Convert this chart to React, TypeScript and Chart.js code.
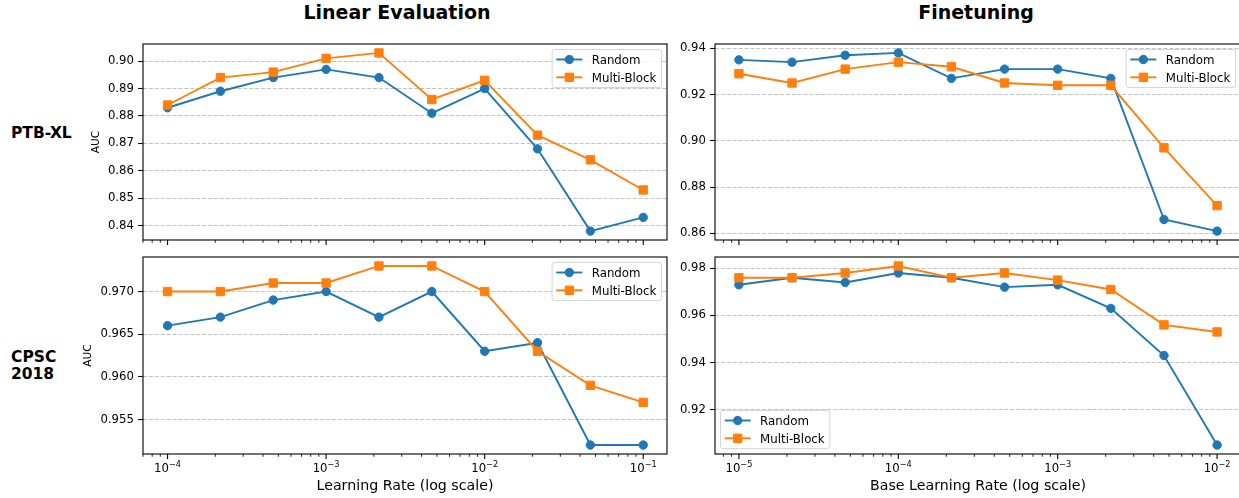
import React, { useEffect, useRef } from "react";
import { Chart, registerables } from "chart.js";

Chart.register(...registerables);

const FONT = "'DejaVu Sans', 'Liberation Sans', sans-serif";
const BLUE = "#1f77b4";
const ORANGE = "#ff7f0e";

// ---- categories (learning rates) ----
const linearRates = [1e-4, 2.154e-4, 4.642e-4, 1e-3, 2.154e-3, 4.642e-3, 1e-2, 2.154e-2, 4.642e-2, 1e-1];
const finetuneRates = [1e-5, 2.154e-5, 4.642e-5, 1e-4, 2.154e-4, 4.642e-4, 1e-3, 2.154e-3, 4.642e-3, 1e-2];
const linearDecades = [-4, -3, -2, -1];
const finetuneDecades = [-5, -4, -3, -2];

const seriesLabels = ["Random", "Multi-Block"];

// ---- series values (AUC) ----
const ptbLinearRandom = [0.883, 0.889, 0.894, 0.897, 0.894, 0.881, 0.89, 0.868, 0.838, 0.843];
const ptbLinearMultiBlock = [0.884, 0.894, 0.896, 0.901, 0.903, 0.886, 0.893, 0.873, 0.864, 0.853];
const ptbFinetuneRandom = [0.935, 0.934, 0.937, 0.938, 0.927, 0.931, 0.931, 0.927, 0.866, 0.861];
const ptbFinetuneMultiBlock = [0.929, 0.925, 0.931, 0.934, 0.932, 0.925, 0.924, 0.924, 0.897, 0.872];
const cpscLinearRandom = [0.966, 0.967, 0.969, 0.97, 0.967, 0.97, 0.963, 0.964, 0.952, 0.952];
const cpscLinearMultiBlock = [0.97, 0.97, 0.971, 0.971, 0.973, 0.973, 0.97, 0.963, 0.959, 0.957];
const cpscFinetuneRandom = [0.973, 0.976, 0.974, 0.978, 0.976, 0.972, 0.973, 0.963, 0.943, 0.905];
const cpscFinetuneMultiBlock = [0.976, 0.976, 0.978, 0.981, 0.976, 0.978, 0.975, 0.971, 0.956, 0.953];

// ---- tick labels ----
const ptbLinearYTicks = [0.84, 0.85, 0.86, 0.87, 0.88, 0.89, 0.9];
const ptbFinetuneYTicks = [0.86, 0.88, 0.9, 0.92, 0.94];
const cpscLinearYTicks = [0.955, 0.96, 0.965, 0.97];
const cpscFinetuneYTicks = [0.92, 0.94, 0.96, 0.98];

// ---- texts ----
const columnTitles = ["Linear Evaluation", "Finetuning"];
const rowTitles = [["PTB-XL"], ["CPSC", "2018"]];
const xTitles = ["Learning Rate (log scale)", "Base Learning Rate (log scale)"];
const yTitle = "AUC";

// ---- layout ----
const CW = 1260;
const CH = 498;
const TICK_FS = 11.7;
const LEGEND_FS = 11.8;
const XLABEL_FS = 14.2;
const YLABEL_FS = 10.6;

type Spec = {
  rates: number[];
  decades: number[];
  random: number[];
  multi: number[];
  yTicks: number[];
  dec: number;
  area: { l: number; t: number; r: number; b: number };
  yTitleX: number | null;
  xTitle: string | null;
  legend: "upper right" | "lower left";
};

const panels: Spec[] = [
  {
    rates: linearRates, decades: linearDecades, random: ptbLinearRandom, multi: ptbLinearMultiBlock,
    yTicks: ptbLinearYTicks, dec: 2, area: { l: 143, t: 44, r: 667, b: 240 }, yTitleX: 96.7, xTitle: null, legend: "upper right",
  },
  {
    rates: finetuneRates, decades: finetuneDecades, random: ptbFinetuneRandom, multi: ptbFinetuneMultiBlock,
    yTicks: ptbFinetuneYTicks, dec: 2, area: { l: 715, t: 44, r: 1241, b: 240 }, yTitleX: null, xTitle: null, legend: "upper right",
  },
  {
    rates: linearRates, decades: linearDecades, random: cpscLinearRandom, multi: cpscLinearMultiBlock,
    yTicks: cpscLinearYTicks, dec: 3, area: { l: 143, t: 257, r: 667, b: 454 }, yTitleX: 88.7, xTitle: xTitles[0], legend: "upper right",
  },
  {
    rates: finetuneRates, decades: finetuneDecades, random: cpscFinetuneRandom, multi: cpscFinetuneMultiBlock,
    yTicks: cpscFinetuneYTicks, dec: 2, area: { l: 715, t: 257, r: 1241, b: 454 }, yTitleX: null, xTitle: xTitles[1], legend: "lower left",
  },
];

function extent(arrs: number[][]) {
  let mn = Infinity, mx = -Infinity;
  for (const a of arrs) for (const v of a) { mn = Math.min(mn, v); mx = Math.max(mx, v); }
  const pad = (mx - mn) * 0.05;
  return [mn - pad, mx + pad];
}

function makeConfig(spec: Spec): any {
  const [yMin, yMax] = extent([spec.random, spec.multi]);
  const l0 = Math.log10(spec.rates[0]);
  const l1 = Math.log10(spec.rates[spec.rates.length - 1]);
  const sp = l1 - l0;
  const xMin = Math.pow(10, l0 - 0.05 * sp);
  const xMax = Math.pow(10, l1 + 0.05 * sp);

  const a = spec.area;
  const yLeft = spec.yTitleX !== null ? spec.yTitleX - YLABEL_FS / 2 : a.l - 60;
  const yWidth = a.l - yLeft;
  const xH = spec.xTitle ? 486 + XLABEL_FS / 2 - a.b : 8;

  const framePlugin = {
    id: "frameBox",
    afterDatasetsDraw(chart: any) {
      const { ctx, chartArea } = chart;
      ctx.save();
      ctx.strokeStyle = "#000";
      ctx.lineWidth = 1.1;
      ctx.strokeRect(chartArea.left, chartArea.top, chartArea.right - chartArea.left, chartArea.bottom - chartArea.top);
      ctx.restore();
    },
  };

  const logTicksPlugin = {
    id: "logTicks",
    afterDraw(chart: any) {
      const { ctx, chartArea } = chart;
      const xs = chart.scales.x;
      const b = chartArea.bottom;
      ctx.save();
      ctx.strokeStyle = "#000";
      const first = spec.decades[0] - 1;
      const last = spec.decades[spec.decades.length - 1];
      for (let d = first; d <= last; d++) {
        for (let k = 1; k <= 9; k++) {
          const v = k * Math.pow(10, d);
          if (v < xs.min || v > xs.max) continue;
          const px = xs.getPixelForValue(v);
          const major = k === 1;
          ctx.lineWidth = major ? 1.1 : 0.85;
          ctx.beginPath();
          ctx.moveTo(px, b);
          ctx.lineTo(px, b + (major ? 4.9 : 2.8));
          ctx.stroke();
        }
      }
      if (spec.xTitle) {
        ctx.fillStyle = "#000";
        ctx.textBaseline = "alphabetic";
        ctx.textAlign = "left";
        for (const d of spec.decades) {
          const px = xs.getPixelForValue(Math.pow(10, d));
          const base = "10";
          const exp = "\u2212" + Math.abs(d);
          ctx.font = `${TICK_FS}px ${FONT}`;
          const w1 = ctx.measureText(base).width;
          ctx.font = `${TICK_FS * 0.7}px ${FONT}`;
          const w2 = ctx.measureText(exp).width;
          const x0 = px - (w1 + w2) / 2;
          ctx.font = `${TICK_FS}px ${FONT}`;
          ctx.fillText(base, x0, b + 18.3);
          ctx.font = `${TICK_FS * 0.7}px ${FONT}`;
          ctx.fillText(exp, x0 + w1, b + 12.7);
        }
      }
      ctx.restore();
    },
  };

  const legendPlugin = {
    id: "mplLegend",
    afterDraw(chart: any) {
      const { ctx, chartArea } = chart;
      const ds = chart.data.datasets;
      ctx.save();
      ctx.font = `${LEGEND_FS}px ${FONT}`;
      const textW = Math.max(...ds.map((d: any) => ctx.measureText(d.label).width));
      const pad = 4.2, handle = 26, tpad = 9.4;
      const w = pad + handle + tpad + textW + pad + 1;
      const h = 38;
      const inset = 5.5;
      const x = spec.legend === "lower left" ? chartArea.left + inset : chartArea.right - inset - w;
      const y = spec.legend === "lower left" ? chartArea.bottom - inset - h : chartArea.top + inset;
      ctx.beginPath();
      if ((ctx as any).roundRect) (ctx as any).roundRect(x, y, w, h, 2.5);
      else ctx.rect(x, y, w, h);
      ctx.fillStyle = "rgba(255,255,255,0.8)";
      ctx.fill();
      ctx.strokeStyle = "rgba(204,204,204,0.8)";
      ctx.lineWidth = 1;
      ctx.stroke();
      const rows = [y + 10, y + 27.8];
      ds.forEach((d: any, i: number) => {
        const cy = rows[i];
        const hx = x + pad;
        ctx.strokeStyle = d.borderColor;
        ctx.lineWidth = d.borderWidth;
        ctx.beginPath();
        ctx.moveTo(hx, cy);
        ctx.lineTo(hx + handle, cy);
        ctx.stroke();
        const mx = hx + handle / 2;
        ctx.fillStyle = d.backgroundColor;
        ctx.lineWidth = 1;
        ctx.beginPath();
        if (d.pointStyle === "rect") {
          const s = d.pointRadius * Math.SQRT1_2;
          ctx.rect(mx - s, cy - s, 2 * s, 2 * s);
        } else {
          ctx.arc(mx, cy, d.pointRadius, 0, Math.PI * 2);
        }
        ctx.fill();
        ctx.stroke();
        ctx.fillStyle = "#000";
        ctx.textBaseline = "alphabetic";
        ctx.textAlign = "left";
        ctx.fillText(d.label, hx + handle + tpad, cy + 4.3);
      });
      ctx.restore();
    },
  };

  return {
    type: "line",
    data: {
      datasets: [
        {
          label: seriesLabels[0],
          data: spec.rates.map((x, i) => ({ x, y: spec.random[i] })),
          borderColor: BLUE,
          backgroundColor: BLUE,
          pointBackgroundColor: BLUE,
          pointBorderColor: BLUE,
          pointStyle: "circle",
          pointRadius: 4.2,
          pointBorderWidth: 1,
          borderWidth: 1.9,
          tension: 0,
          order: 1,
        },
        {
          label: seriesLabels[1],
          data: spec.rates.map((x, i) => ({ x, y: spec.multi[i] })),
          borderColor: ORANGE,
          backgroundColor: ORANGE,
          pointBackgroundColor: ORANGE,
          pointBorderColor: ORANGE,
          pointStyle: "rect",
          pointRadius: 5.9,
          pointBorderWidth: 1,
          borderWidth: 1.9,
          tension: 0,
          order: 0,
        },
      ],
    },
    options: {
      responsive: false,
      animation: false,
      devicePixelRatio: 1,
      events: [],
      layout: {
        padding: { left: yLeft, top: a.t, right: CW - a.r, bottom: CH - a.b - xH },
      },
      plugins: {
        legend: { display: false },
        tooltip: { enabled: false },
        title: { display: false },
      },
      scales: {
        x: {
          type: "logarithmic",
          position: "bottom",
          min: xMin,
          max: xMax,
          afterFit: (s: any) => { s.height = xH; },
          ticks: { display: false },
          grid: { display: false },
          border: { display: false },
          title: {
            display: !!spec.xTitle,
            text: spec.xTitle || "",
            color: "#000",
            padding: 0,
            font: { family: FONT, size: XLABEL_FS, lineHeight: 1 },
          },
        },
        y: {
          type: "linear",
          position: "left",
          min: yMin,
          max: yMax,
          afterBuildTicks: (s: any) => { s.ticks = spec.yTicks.map((v) => ({ value: v })); },
          afterFit: (s: any) => { s.width = yWidth; },
          ticks: {
            autoSkip: false,
            color: "#000",
            padding: 4.2,
            font: { family: FONT, size: TICK_FS },
            callback: (v: any) => Number(v).toFixed(spec.dec),
          },
          grid: {
            display: true,
            color: "#b4b4b4",
            lineWidth: 0.8,
            drawTicks: true,
            tickLength: 4.9,
            tickColor: "#000",
            tickWidth: 1.1,
            tickBorderDash: [],
          },
          border: { display: false, dash: [4.1, 1.8] },
          title: {
            display: spec.yTitleX !== null,
            text: yTitle,
            color: "#000",
            padding: 0,
            font: { family: FONT, size: YLABEL_FS, lineHeight: 1 },
          },
        },
      },
    },
    plugins: [framePlugin, logTicksPlugin, legendPlugin],
  };
}

function Panel({ spec }: { spec: Spec }) {
  const ref = useRef<HTMLCanvasElement>(null);
  useEffect(() => {
    if (!ref.current) return;
    const chart = new Chart(ref.current, makeConfig(spec));
    return () => chart.destroy();
  }, [spec]);
  return (
    <canvas
      ref={ref}
      width={CW}
      height={CH}
      style={{ position: "absolute", left: 0, top: 0, width: CW, height: CH }}
    />
  );
}

const textBase: React.CSSProperties = {
  position: "absolute",
  fontFamily: FONT,
  fontWeight: "bold",
  color: "#000",
  whiteSpace: "nowrap",
  margin: 0,
};

export default function App() {
  return (
    <div
      style={{
        position: "fixed",
        left: 0,
        top: 0,
        width: 1239,
        height: 498,
        overflow: "hidden",
        background: "#fff",
      }}
    >
      <div style={{ ...textBase, left: 397, top: 3.4, fontSize: 19, lineHeight: "19px", transform: "translateX(-50%)" }}>
        {columnTitles[0]}
      </div>
      <div style={{ ...textBase, left: 976, top: 3.4, fontSize: 19, lineHeight: "19px", transform: "translateX(-50%)" }}>
        {columnTitles[1]}
      </div>
      <div style={{ ...textBase, left: 11, top: 125, fontSize: 15.5, lineHeight: "17px" }}>
        {rowTitles[0].map((t) => <div key={t}>{t}</div>)}
      </div>
      <div style={{ ...textBase, left: 11, top: 348.6, fontSize: 15.5, lineHeight: "17.6px" }}>
        {rowTitles[1].map((t) => <div key={t}>{t}</div>)}
      </div>
      {panels.map((p, i) => (
        <Panel key={i} spec={p} />
      ))}
    </div>
  );
}
